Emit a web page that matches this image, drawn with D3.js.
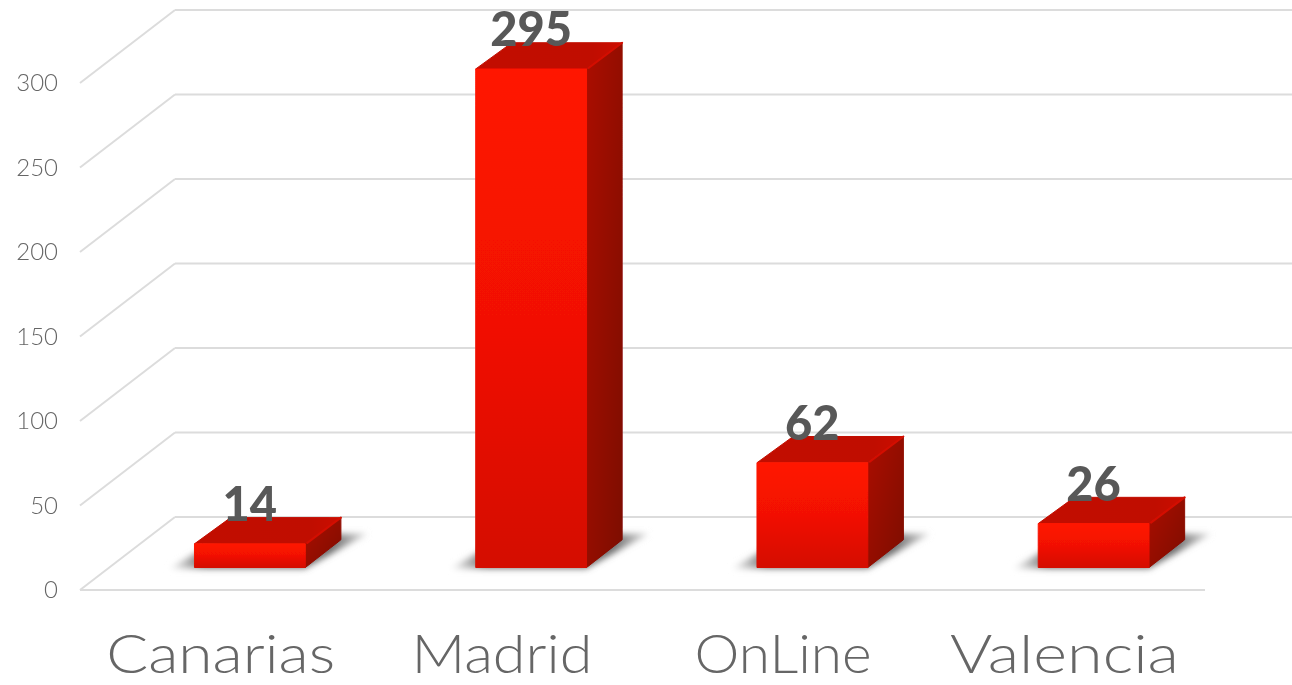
<!DOCTYPE html>
<html lang="en">
<head>
<meta charset="UTF-8">
<title>Bars by site</title>
<script src="https://d3js.org/d3.v7.min.js"></script>
<style>
    body { margin: 0; background: #fff; overflow: hidden; }
    svg { display: block; }
    .grid-line { stroke: #dcdcdc; stroke-width: 2; fill: none; }
    .y-axis text { font-family: Lato, sans-serif; font-weight: 300; font-size: 24px; fill: #666; }
    .x-axis text { font-family: Lato, sans-serif; font-weight: 300; font-size: 54px; fill: #666; }
    .value-label { font-family: Lato, sans-serif; font-weight: 900; font-size: 47px; fill: #595959; text-anchor: middle; }
</style>
</head>
<body>
<script>
    const categories = ["Canarias", "Madrid", "OnLine", "Valencia"];
    const values = [14, 295, 62, 26];
    const yTicks = [0, 50, 100, 150, 200, 250, 300];

    const width = 1292, height = 685;
    const depthX = 95, depthY = -73;        // floor depth of the 3d box
    const barStart = 0.308, barEnd = 0.688; // where bars sit inside that depth
    const labelFit = { Canarias: 229, Madrid: 181, OnLine: 177, Valencia: 229 };  // Lato runs narrower than the original font

    const x = d3.scaleBand().domain(categories).range([80, 1205]).paddingInner(0.606).paddingOuter(0.303);
    const y = d3.scaleLinear().domain([0, 300]).range([590, 83]);

    const svg = d3.select("body").append("svg").attr("width", width).attr("height", height);
    const defs = svg.append("defs");

    function gradient(id, x2, y2, stops) {
        const g = defs.append("linearGradient").attr("id", id)
            .attr("x1", 0).attr("y1", 0).attr("x2", x2).attr("y2", y2);
        stops.forEach(s => g.append("stop").attr("offset", s[0]).attr("stop-color", s[1]));
    }
    gradient("front", 0, 1, [[0, "#ff1405"], [0.5, "#f21103"], [1, "#d40f00"]]);
    gradient("side", 1, 1, [[0, "#ab0d00"], [1, "#7d0700"]]);
    gradient("top", 1, 0, [[0, "#c20c00"], [0.8, "#c00c00"], [1, "#cc1000"]]);
    gradient("shadow", 1, 0, [[0, "#fff"], [0.18, "#707070"], [0.82, "#707070"], [1, "#ddd"]]);

    defs.append("filter").attr("id", "soft").append("feGaussianBlur").attr("stdDeviation", 0.6);
    defs.append("filter").attr("id", "blur")
        .attr("x", -0.2).attr("y", -0.5).attr("width", 1.4).attr("height", 2)
        .append("feGaussianBlur").attr("stdDeviation", 3.2);

    const root = svg.append("g").attr("filter", "url(#soft)");

    // grid: side wall diagonals, back wall lines, front floor edge
    const grid = root.append("g");
    grid.selectAll(".diag").data(yTicks).enter().append("line")
        .attr("class", "grid-line diag")
        .attr("x1", 80).attr("y1", d => y(d))
        .attr("x2", 80 + depthX).attr("y2", d => y(d) + depthY);
    grid.selectAll(".back").data(yTicks).enter().append("line")
        .attr("class", "grid-line back")
        .attr("x1", 80 + depthX).attr("y1", d => y(d) + depthY)
        .attr("x2", width).attr("y2", d => y(d) + depthY);
    grid.append("line").attr("class", "grid-line")
        .attr("x1", 80).attr("y1", y(0)).attr("x2", 1205).attr("y2", y(0));

    // axes
    const yAxis = root.append("g").attr("class", "y-axis")
        .attr("transform", "translate(80,0)")
        .call(d3.axisLeft(y).tickValues(yTicks).tickSize(0).tickPadding(22));
    yAxis.select(".domain").remove();

    const xAxis = root.append("g").attr("class", "x-axis")
        .attr("transform", "translate(0,590)")
        .call(d3.axisBottom(x).tickSize(0).tickPadding(45));
    xAxis.select(".domain").remove();
    xAxis.selectAll("text")
        .attr("textLength", d => labelFit[d])
        .attr("lengthAdjust", "spacingAndGlyphs");

    // bars
    const bars = categories.map((c, i) => {
        const x0 = x(c) + depthX * barStart, x1 = x0 + x.bandwidth();
        const base = y(0) + depthY * barStart, top = y(values[i]) + depthY * barStart;
        const dx = depthX * (barEnd - barStart), dy = depthY * (barEnd - barStart);
        return { c, v: values[i], x0, x1, base, top, dx, dy };
    });
    const poly = pts => pts.map(p => p.join(",")).join(" ");

    const bar = root.selectAll(".bar").data(bars).enter().append("g").attr("class", "bar");

    bar.append("polygon")
        .attr("points", d => poly([[d.x0 - 26, d.base + 1], [d.x1, d.base + 1],
            [d.x1 + d.dx + 26, d.base + d.dy - 6], [d.x0 + d.dx, d.base + d.dy - 6]]))
        .attr("fill", "url(#shadow)")
        .attr("filter", "url(#blur)");

    const face = (cls, fill, pts) => bar.append("polygon")
        .attr("class", cls)
        .attr("points", d => poly(pts(d)))
        .attr("fill", fill)
        .attr("stroke", fill)
        .attr("stroke-width", 1)
        .attr("stroke-linejoin", "round");

    face("side", "url(#side)", d => [[d.x1, d.top], [d.x1 + d.dx - 0.5, d.top + d.dy + 1.5],
        [d.x1 + d.dx - 0.5, d.base + d.dy], [d.x1, d.base]]);
    face("top", "url(#top)", d => [[d.x0, d.top], [d.x0 + d.dx, d.top + d.dy + 1.5],
        [d.x1 + d.dx - 0.5, d.top + d.dy + 1.5], [d.x1, d.top]]);
    face("front", "url(#front)", d => [[d.x0, d.top], [d.x1, d.top], [d.x1, d.base], [d.x0, d.base]]);

    // lighter bevel along the right edge of the top
    bar.append("line")
        .attr("x1", d => d.x1 + 2).attr("y1", d => d.top - 1)
        .attr("x2", d => d.x1 + d.dx - 0.5).attr("y2", d => d.top + d.dy + 1.5)
        .attr("stroke", "#d41000").attr("stroke-width", 2)
        .attr("stroke-linecap", "round");

    root.selectAll(".value-label").data(bars).enter().append("text")
        .attr("class", "value-label")
        .attr("x", d => (d.x0 + d.x1) / 2)
        .attr("y", d => d.top - 22.5)
        .text(d => d.v);
</script>
</body>
</html>
